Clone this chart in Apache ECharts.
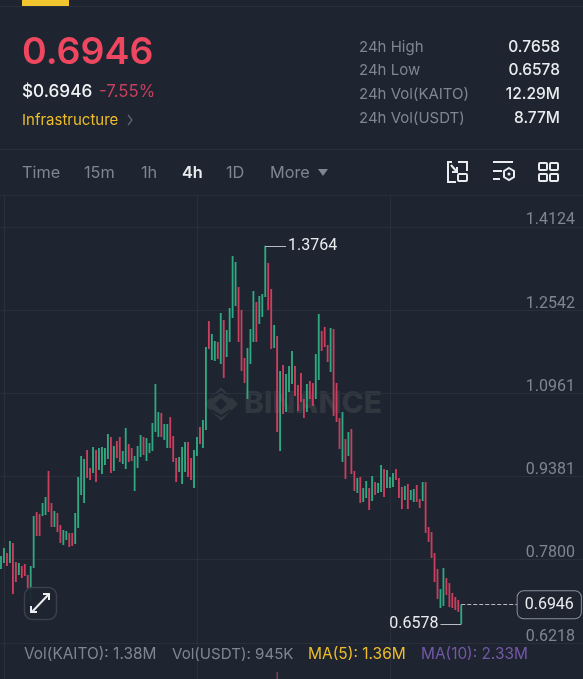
<!DOCTYPE html>
<html><head><meta charset="utf-8">
<style>html,body{margin:0;padding:0;background:#1e2530;overflow:hidden}#c{width:583px;height:679px}</style>
<script src="https://cdn.jsdelivr.net/npm/echarts@6/dist/echarts.min.js"></script>
</head><body><div id="c"></div>
<script>
const bodyTops=[.7871,.8023,.7928,.8156,.8118,.7757,.7738,.7681,.7719,.7510,
.7681,.8631,.8707,.8669,.8878,.8992,.9486,.8878,.8726,.8688,
.8460,.8365,.8346,.8308,.8308,.8688,.9372,.9771,.9714,.9885,
.9543,.9942,.9885,.9923,.9942,.9923,1.0189,1.0132,.9961,1.0056,
1.0132,.9866,1.0303,.9999,.9923,.9771,.9961,1.0170,1.0132,1.0113,
1.0018,1.0398,1.1139,1.0607,1.0588,1.0379,1.0379,1.0512,1.0151,.9733,
.9752,.9942,1.0037,1.0037,.9733,.9885,1.0132,1.0322,1.0455,1.1842,
1.2336,1.2089,1.1956,1.1937,1.2488,1.2355,1.2165,1.2583,1.3571,1.3457,
1.2982,1.2545,1.1633,1.1823,1.2184,1.2906,1.2697,1.2811,1.2849,1.3764,
1.3438,1.2944,1.2260,1.2051,1.1386,1.1500,1.1329,1.1481,1.1766,1.1481,
1.1120,1.1348,1.0854,1.1139,1.1196,1.1158,1.1709,1.2469,1.2146,1.2222,
1.1880,1.2203,1.2184,1.1158,1.0493,1.0607,1.0094,1.0227,1.0284,.9486,
.9353,.9372,.9163,.9296,.9163,.9391,.9277,.9258,.9600,.9524,
.9505,.9372,.9448,.9524,.9353,.9182,.9201,.9239,.9125,.9144,
.9220,.8954,.9277,.9277,.8422,.8327,.7928,.7624,.7244,.7643,
.7453,.7358,.7168,.7092,.7035,.6946];
const bodyBottoms=[.7624,.7738,.7681,.7738,.7149,.7377,.7510,.7453,.7491,.7263,
.7282,.7643,.8251,.8251,.8631,.8650,.8707,.8422,.8422,.8327,
.8118,.8080,.8175,.8042,.8061,.8099,.8403,.9030,.8878,.9353,
.9315,.9448,.9277,.9505,.9429,.9600,.9714,.9448,.9486,.9733,
.9657,.9619,.9524,.9657,.9676,.9106,.9543,.9752,.9790,.9676,
.9828,.9866,1.0227,1.0132,1.0132,1.0075,.9923,.9923,.9657,.9277,
.9467,.9239,.9467,.9372,.9315,.9163,.9771,.9999,.9923,1.0265,
1.1804,1.1595,1.1576,1.1614,1.1519,1.1253,1.1652,1.1937,1.2393,1.2621,
1.1937,1.1386,1.1158,1.0854,1.1519,1.1937,1.1937,1.2279,1.2412,1.2792,
1.2545,1.1804,1.1823,1.0227,.9866,1.0569,1.0607,1.0987,1.1139,1.0911,
1.0626,1.0797,1.0493,1.0607,1.0854,1.0721,1.0854,1.1215,1.1766,1.1842,
1.1557,1.1367,1.0531,1.0417,.9904,.9657,.9334,.9771,.9429,.9106,
.9068,.8878,.8897,.8973,.8745,.8916,.9030,.9068,.9087,.8992,
.9163,.9163,.9182,.9315,.8973,.8764,.8935,.8764,.8935,.8897,
.8897,.8783,.8916,.8308,.8137,.7833,.7377,.7054,.6883,.6921,
.7130,.6902,.6883,.6845,.6807,.6578];
const directions="ggrgrrgrrr"+"ggrrggrrgr"+"rggrrggggr"+"rgrggggrgr"+"rggrrgggrg"+"ggggrggrrr"+"gggrrggrgg"+"rggrgrgggg"+"rrrgggrggg"+"rrgrgrgggr"+"rrrgrrggrr"+"rgrrrgrgrr"+"grggrgrggr"+"gggrrrgrgg"+"rrgrrrrrgg"+"rrrrrg";
const wickLows={10:.7016};
const yTicks=[0.6218,0.7800,0.9381,1.0961,1.2542,1.4124];
const highPrice=1.3764, lowPrice=0.6578, lastPrice=0.6946;
const stats=[["24h High","0.7658"],["24h Low","0.6578"],["24h Vol(KAITO)","12.29M"],["24h Vol(USDT)","8.77M"]];
const tabs=[["Time",22],["15m",84],["1h",141],["4h",182],["1D",226],["More",270]];
const slotCount=197;

const F='Inter, "Noto Sans", sans-serif';
const NUM='Roboto, Inter, sans-serif';
const BG='#1e2530',GRID='#2a303b',GREEN='#2fa981',RED='#cb3f5e',GREY='#7f8692',WHITE='#eaecef',YEL='#eebc2a';
const cats=[];for(let i=0;i<slotCount;i++)cats.push(String(i));
const candles=bodyTops.map((t,i)=>{const b=bodyBottoms[i],up=directions[i]==='g';
  return [i,up?b:t,up?t:b,wickLows[i]!==undefined?wickLows[i]:b,t];});

function renderCandle(params,api){
  const i=api.value(0),o=api.value(1),c=api.value(2),lo=api.value(3),hi=api.value(4);
  const top=api.coord([i,Math.max(o,c)]),bot=api.coord([i,Math.min(o,c)]),wick=api.coord([i,lo]),peak=api.coord([i,hi]);
  const col=c>=o?GREEN:RED;
  return {type:'group',children:[
    {type:'rect',shape:{x:top[0]-.4,y:peak[1],width:.8,height:wick[1]-peak[1]},style:{fill:col}},
    {type:'rect',shape:{x:top[0]-.9,y:top[1],width:1.8,height:bot[1]-top[1]},style:{fill:col}}
  ]};
}

function txt(x,y,s,size,fill,weight,align,extra){return {type:'text',x:x,y:y,z:5,silent:true,
  style:Object.assign({text:s,font:(weight||400)+' '+size+'px '+F,fill:fill,textAlign:align||'left',textVerticalAlign:'middle'},extra||{})};}
function rect(x,y,w,h,fill,z){return {type:'rect',silent:true,z:z||1,shape:{x,y,width:w,height:h},style:{fill}};}
function box(x,y,w,h,r){return {type:'rect',silent:true,z:5,shape:{x,y,width:w,height:h,r},style:{fill:'none',stroke:WHITE,lineWidth:2}};}
function ln(pts,c,w){return {type:'polyline',silent:true,z:5,shape:{points:pts},style:{fill:'none',stroke:c||WHITE,lineWidth:w||2}};}

const g=[
 rect(0,6,583,1,GRID),rect(22,0,47,6,'#f0c52e',6),
 rect(0,149,583,1,GRID),rect(0,195,583,1,GRID),
 txt(22,53,'0.6946',37.5,'#ef4760',600),
 txt(22,92,'$0.6946',17.2,'#f2f3f5',500),
 txt(99,92,'-7.55%',16.8,RED,400),
 txt(22,120,'Infrastructure',15,YEL,400),
 ln([[128,115],[132,120],[128,125]],'#5e6571',1.3)
];
stats.forEach((s,i)=>{const y=47+i*23.7;
 g.push(txt(359,y,s[0],15,GREY,400));
 g.push(txt(560,y,s[1],15.5,WHITE,500,'right'));});
tabs.forEach(t=>{g.push(txt(t[1],173,t[0],16.3,t[0]==='4h'?WHITE:GREY,t[0]==='4h'?600:400));});
g.push({type:'polygon',silent:true,z:5,shape:{points:[[318,169],[328,169],[323,176]]},style:{fill:GREY}});
// toolbar icons
g.push(ln([[458,162],[467,162],[467,171]]),ln([[456,182],[448,182],[448,162],[452,162]]),ln([[451,165],[457,172]]),ln([[452,172],[457,172],[457,167]]),box(458,174,9,7,1));
g.push(ln([[493,162],[513,162]]),ln([[493,171],[502,171]]),ln([[493,179],[500,179]]));
g.push({type:'polygon',silent:true,z:5,shape:{points:[[509,168],[514,171],[514,177],[509,180],[504,177],[504,171]]},style:{fill:'none',stroke:WHITE,lineWidth:2}});
g.push({type:'circle',silent:true,z:5,shape:{cx:509,cy:174,r:1.5},style:{fill:WHITE}});
g.push(box(539,163,8,7,1),box(550,163,8,7,1),box(539,174,8,7,1),box(550,174,8,7,1));
// watermark
const WM='#31373f';
g.push({type:'polygon',silent:true,z:0,shape:{points:[[221,387],[238,404],[221,421],[204,404]]},style:{fill:WM}});
g.push({type:'polygon',silent:true,z:0,shape:{points:[[221,398],[227,404],[221,410],[215,404]]},style:{fill:BG}});
g.push({type:'polyline',silent:true,z:0,shape:{points:[[211,398],[221,392],[231,398]]},style:{fill:'none',stroke:BG,lineWidth:2}});
g.push({type:'polyline',silent:true,z:0,shape:{points:[[211,410],[221,416],[231,410]]},style:{fill:'none',stroke:BG,lineWidth:2}});
g.push(Object.assign(txt(244,404,'BINANCE',30,WM,800),{z:0}));
// expand button
g.push({type:'rect',silent:true,z:6,shape:{x:24.5,y:587.5,width:32,height:32,r:8},style:{fill:'rgba(30,37,48,.85)',stroke:'#3a404c',lineWidth:1.5}});
g.push(Object.assign(ln([[32,612],[48,595]]),{z:7}),Object.assign(ln([[43,594],[49,594],[49,600]]),{z:7}),Object.assign(ln([[31,606],[31,612],[37,612]]),{z:7}));
// footer
g.push(txt(24,654,'Vol(KAITO): 1.38M',15.4,GREY),txt(172,654,'Vol(USDT): 945K',15.1,GREY),txt(308,654,'MA(5): 1.36M',15.5,YEL),txt(421,654,'MA(10): 2.33M',15.4,'#7458a8'));
g.push(rect(276.5,672,1.5,7,'#8a3a55',3));
g.push(txt(575,685,'0.75M',15,GREY,400,'right'));

const chart=echarts.init(document.getElementById('c'),null,{renderer:'canvas'});
chart.setOption({
 animation:false,backgroundColor:BG,
 grid:{left:1,right:0,top:195,bottom:0},
 xAxis:{type:'category',data:cats,boundaryGap:false,axisLine:{show:false},axisTick:{show:false},axisLabel:{show:false},
  splitLine:{show:true,interval:(i)=>i%65===1,lineStyle:{color:GRID,width:1}}},
 yAxis:{type:'value',position:'right',min:0.5534,max:1.4730,scale:true,
  axisLine:{show:false},
  axisTick:{show:false,customValues:yTicks},
  axisLabel:{inside:true,margin:8,customValues:yTicks,color:GREY,fontFamily:NUM,fontSize:16,lineHeight:13,verticalAlign:'bottom',formatter:v=>v.toFixed(4)},
  splitLine:{show:true,lineStyle:{color:GRID,width:1}}},
 graphic:g,
 series:[{type:'custom',data:candles,renderItem:renderCandle,clip:false,silent:true,encode:{x:0,y:[1,2,3,4]},
  markLine:{silent:true,symbol:'none',animation:false,data:[
   [{coord:[89,highPrice],lineStyle:{color:'#b7bcc4',width:1,type:'solid'},
     label:{show:true,position:'end',distance:2,formatter:highPrice.toFixed(4),color:WHITE,fontFamily:NUM,fontSize:16}},{coord:[96,highPrice]}],
   [{coord:[155,lowPrice],lineStyle:{color:'#b7bcc4',width:1,type:'solid'},
     label:{show:true,position:'end',distance:2,formatter:lowPrice.toFixed(4),color:WHITE,fontFamily:NUM,fontSize:16}},{coord:[148,lowPrice]}],
   [{coord:[155,lastPrice],lineStyle:{color:'#b7bcc4',width:1,type:'dashed'},
     label:{show:true,position:'end',distance:0,formatter:lastPrice.toFixed(4),color:WHITE,fontFamily:NUM,fontSize:16,
      backgroundColor:BG,borderColor:'#8a909a',borderWidth:1,borderRadius:6,padding:[6,7,5,7]}},{coord:[174,lastPrice]}]
  ]}
 }]
});
</script></body></html>
